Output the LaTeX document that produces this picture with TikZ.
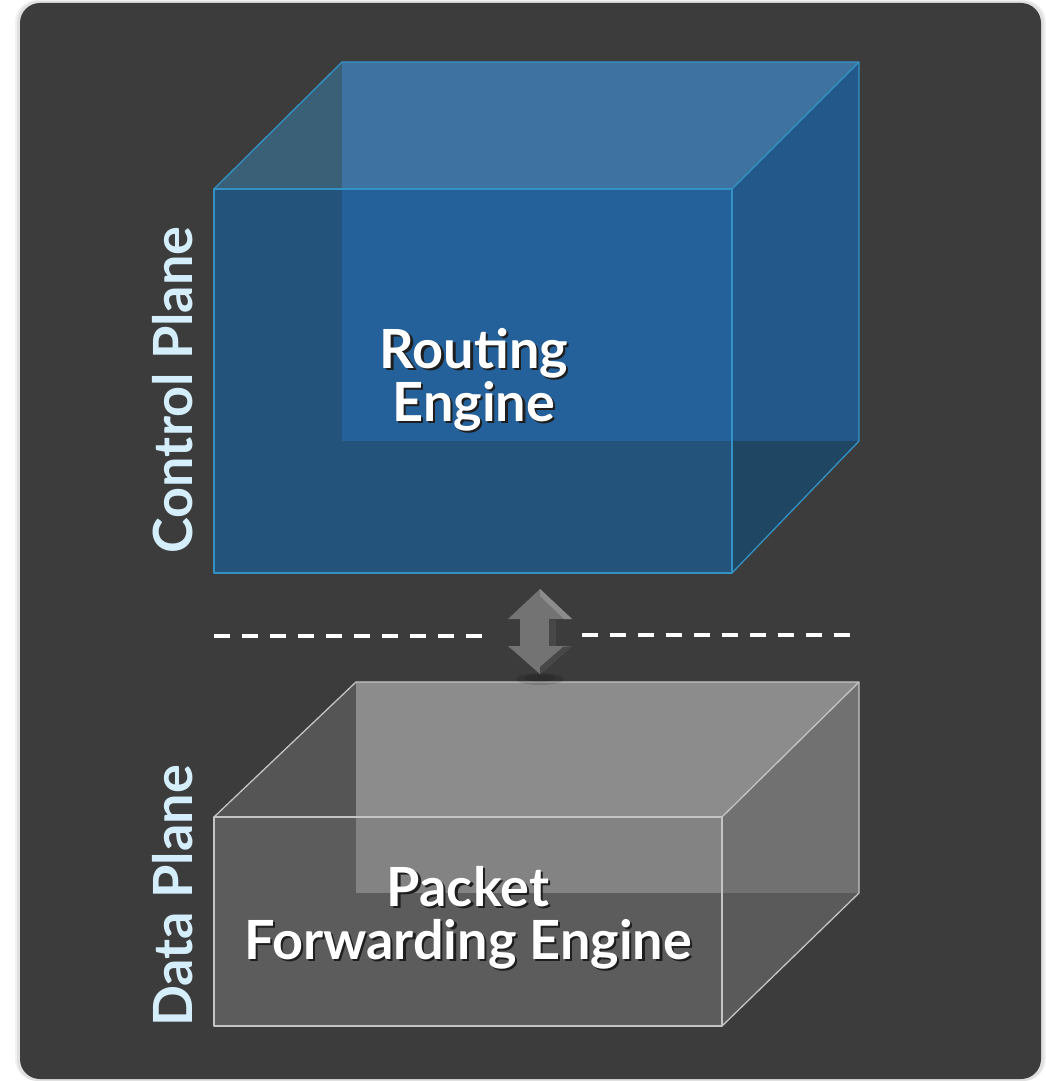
\documentclass[tikz,border=0pt]{standalone}
\usepackage{fontspec}
\setmainfont{Lato}
\definecolor{panel}{HTML}{3C3C3C}
\definecolor{bTopL}{HTML}{3A6078}
\definecolor{bBack}{HTML}{3E72A0}
\definecolor{bRightBack}{HTML}{23598A}
\definecolor{bRight}{HTML}{1F4763}
\definecolor{bFront}{HTML}{23537A}
\definecolor{bFrontBack}{HTML}{24609A}
\definecolor{bedge}{HTML}{3391C4}
\definecolor{gTopL}{HTML}{555555}
\definecolor{gBack}{HTML}{8C8C8C}
\definecolor{gRightBack}{HTML}{717171}
\definecolor{gRight}{HTML}{5A5A5A}
\definecolor{gFront}{HTML}{5C5C5C}
\definecolor{gFrontBack}{HTML}{838383}
\definecolor{gedge}{HTML}{C4C4C4}
\definecolor{sidecol}{HTML}{D4EEFB}
\definecolor{arrowc}{HTML}{737373}
\definecolor{txtshadow}{HTML}{1E1E1E}
\newcommand{\shadowed}[1]{\leavevmode\rlap{\kern2.2pt\raisebox{-2.4pt}{\textcolor{txtshadow}{#1}}}#1}
\begin{document}
\begin{tikzpicture}[x=1pt,y=-1pt,
  edgeB/.style={draw=bedge, line width=1.3pt, line join=round},
  edgeG/.style={draw=gedge, line width=1.3pt, line join=round},
  maintext/.style={font=\bfseries\fontsize{54}{53}\selectfont, text=white, align=center, inner sep=0pt},
  sidetext/.style={font=\bfseries\fontsize{54}{60}\selectfont, text=sidecol, rotate=90, inner sep=0pt},
  planeline/.style={draw=white, line width=4pt, dash pattern=on 16pt off 12pt}
]
\useasboundingbox (0,0) rectangle (1046,1081);
\fill[white] (0,0) rectangle (1046,1081);
% panel shadow and panel
\fill[black, opacity=0.05, rounded corners=22] (15,0) rectangle (1046,1081);
\fill[black, opacity=0.07, rounded corners=21] (17,1) rectangle (1044,1081);
\fill[panel, rounded corners=20] (20,3) rectangle (1041,1079);

% ---- blue box (control plane)
\fill[bTopL] (214,189) -- (342,62) -- (342,189) -- cycle;
\fill[bBack] (342,62) -- (859,62) -- (732,189) -- (342,189) -- cycle;
\fill[bRightBack] (732,189) -- (859,62) -- (859,441) -- (732,441) -- cycle;
\fill[bRight] (732,441) -- (859,441) -- (732,573) -- cycle;
\fill[bFront] (214,189) rectangle (732,573);
\fill[bFrontBack] (342,189) rectangle (732,441);
\draw[edgeB] (214,189) -- (342,62) -- (859,62) -- (859,441) -- (732,573);
\draw[edgeB] (214,189) rectangle (732,573);
\draw[edgeB] (732,189) -- (859,62);

% ---- gray box (data plane)
\fill[gTopL] (214,817) -- (356,682) -- (356,817) -- cycle;
\fill[gBack] (356,682) -- (859,682) -- (722,817) -- (356,817) -- cycle;
\fill[gRightBack] (722,817) -- (859,682) -- (859,893) -- (722,893) -- cycle;
\fill[gRight] (722,893) -- (859,893) -- (722,1026) -- cycle;
\fill[gFront] (214,817) rectangle (722,1026);
\fill[gFrontBack] (356,817) rectangle (722,893);
\draw[edgeG] (214,817) -- (356,682) -- (859,682) -- (859,893) -- (722,1026);
\draw[edgeG] (214,817) rectangle (722,1026);
\draw[edgeG] (722,817) -- (859,682);

% ---- dashed plane divider
\coordinate (dl1) at (214,636);
\coordinate (dl2) at (482,636);
\coordinate (dr1) at (582,635);
\coordinate (dr2) at (850,635);
\draw[planeline] (dl1) -- (dl2);
\draw[planeline] (dr1) -- (dr2);

% ---- double arrow
\fill[black, opacity=0.12] (540,679) ellipse [x radius=24pt, y radius=6pt];
\fill[black, opacity=0.15] (540,678) ellipse [x radius=16pt, y radius=3.5pt];
\fill[arrowc] (540,589) -- (572,619) -- (549,619) -- (549,646) -- (572,646) -- (540,674)
  -- (508,646) -- (520,646) -- (520,619) -- (508,619) -- cycle;
\fill[black!38!arrowc] (549,620) -- (556,620) -- (556,646) -- (549,646) -- cycle;
\fill[black!38!arrowc] (572,646) -- (540,674) -- (540,667) -- (563,647) -- cycle;
\fill[white!18!arrowc] (540,589) -- (572,619) -- (564,619) -- (540,596) -- cycle;

% ---- labels
\node[maintext] (re) at (474,381) {\shadowed{Routing}\\\shadowed{Engine}};
\node[maintext] (pfe) at (468,919) {\shadowed{Packet}\\\shadowed{Forwarding Engine}};
\node[sidetext] (cp) at (173,390) {Control Plane};
\node[sidetext] (dp) at (173,896) {Data Plane};
\end{tikzpicture}
\end{document}
